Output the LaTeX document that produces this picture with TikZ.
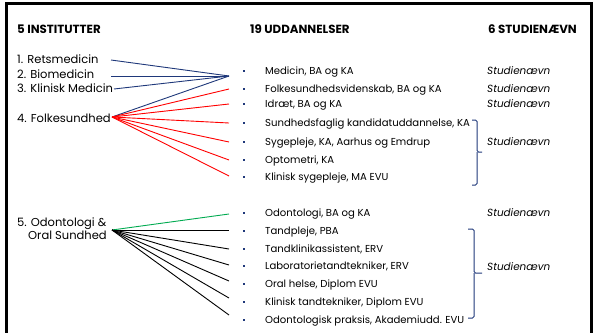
\documentclass[tikz,border=0pt]{standalone}
\usepackage{fontspec}
\setmainfont{Poppins}
\definecolor{navy}{RGB}{31,56,122}
\definecolor{gronn}{RGB}{0,170,80}

\begin{document}
\begin{tikzpicture}[x=1pt,y=-1pt,
  head/.style={anchor=base west,inner sep=0pt,font=\bfseries\fontsize{11.8}{14}\selectfont},
  inst/.style={anchor=base west,inner sep=0pt,font=\fontsize{11.5}{14}\selectfont},
  udd/.style={anchor=base west,inner sep=0pt,font=\fontsize{10.1}{12}\selectfont},
  snv/.style={anchor=base west,inner sep=0pt,font=\itshape\fontsize{10.4}{12}\selectfont},
  dot/.style={fill=navy,inner sep=0pt,minimum size=2.8pt},
  blue line/.style={navy,line width=0.9pt},
  red line/.style={red,line width=0.9pt},
  green line/.style={gronn,line width=0.9pt},
  black line/.style={black,line width=0.9pt},
  brace/.style={navy,line width=1pt,rounded corners=1.5pt}]
\useasboundingbox (0,0) rectangle (596,332);
% ramme
\draw[line width=3.2pt] (6.6,340) -- (6.6,3.4) -- (591.6,3.4) -- (591.6,340);

% overskrifter
\node[head] (h1) at (17,33.5) {5 INSTITUTTER};
\node[head] (h2) at (250,33.5) {19 UDDANNELSER};
\node[head] (h3) at (488,33.5) {6 STUDIENÆVN};

% institutter
\node[inst] (ins1) at (17,63.5) {1. Retsmedicin};
\node[inst] (ins2) at (17,78) {2. Biomedicin};
\node[inst] (ins3) at (17,92.5) {3. Klinisk Medicin};
\node[inst] (ins4) at (17,122.5) {4. Folkesundhed};
\node[inst] (ins5a) at (17,226.5) {5. Odontologi \&};
\node[inst] (ins5b) at (28,239.5) {Oral Sundhed};

\coordinate (s1) at (111,60);
\coordinate (s2) at (111,76);
\coordinate (s3) at (114,89);
\coordinate (s4) at (112,117);
\coordinate (s5) at (112,230);
\coordinate (hub) at (229,76);

% uddannelser
\node[dot] (b1) at (244,71) {};
\node[dot] (b2) at (244,89) {};
\node[dot] (b3) at (244,104) {};
\node[dot] (b4) at (244,123) {};
\node[dot] (b5) at (244,142) {};
\node[dot] (b6) at (244,160) {};
\node[dot] (b7) at (244,177) {};
\node[dot] (b8) at (244,213) {};
\node[dot] (b9) at (244,231) {};
\node[dot] (b10) at (244,249) {};
\node[dot] (b11) at (244,266) {};
\node[dot] (b12) at (244,284) {};
\node[dot] (b13) at (244,302) {};
\node[dot] (b14) at (244,320) {};

\node[udd] (u1) at (265,74.5) {Medicin, BA og KA};
\node[udd] (u2) at (265,92.5) {Folkesundhedsvidenskab, BA og KA};
\node[udd] (u3) at (265,107.5) {Idræt, BA og KA};
\node[udd] (u4) at (265,126.5) {Sundhedsfaglig kandidatuddannelse, KA};
\node[udd] (u5) at (265,145.5) {Sygepleje, KA, Aarhus og Emdrup};
\node[udd] (u6) at (265,163.5) {Optometri, KA};
\node[udd] (u7) at (265,180.5) {Klinisk sygepleje, MA EVU};
\node[udd] (u8) at (265,216.5) {Odontologi, BA og KA};
\node[udd] (u9) at (265,234.5) {Tandpleje, PBA};
\node[udd] (u10) at (265,252.5) {Tandklinikassistent, ERV};
\node[udd] (u11) at (265,269.5) {Laboratorietandtekniker, ERV};
\node[udd] (u12) at (265,287.5) {Oral helse, Diplom EVU};
\node[udd] (u13) at (265,305.5) {Klinisk tandtekniker, Diplom EVU};
\node[udd] (u14) at (265,323.5) {Odontologisk praksis, Akademiudd. EVU};

\coordinate (e2) at (229,89);
\coordinate (e3) at (229,104);
\coordinate (e4) at (229,123);
\coordinate (e5) at (229,142);
\coordinate (e6) at (229,160);
\coordinate (e7) at (229,176);
\coordinate (e8) at (229,214);
\coordinate (e9) at (229,230);
\coordinate (e10) at (229,249);
\coordinate (e11) at (229,265);
\coordinate (e12) at (229,281);
\coordinate (e13) at (229,298);
\coordinate (e14) at (229,315);

% studienaevn
\node[snv] (sn1) at (487,74.5) {Studienævn};
\node[snv] (sn2) at (487,92.5) {Studienævn};
\node[snv] (sn3) at (487,107.5) {Studienævn};
\node[snv] (sn4) at (487,145.5) {Studienævn};
\node[snv] (sn5) at (487,216.5) {Studienævn};
\node[snv] (sn6) at (487,270.5) {Studienævn};

% forbindelser
\draw[blue line](s1)--(hub);
\draw[blue line](s2)--(hub);
\draw[blue line](s3)--(hub);
\draw[blue line](s4)--(hub);
\draw[red line](s4)--(e2);
\draw[red line](s4)--(e3);
\draw[red line](s4)--(e4);
\draw[red line](s4)--(e5);
\draw[red line](s4)--(e6);
\draw[red line](s4)--(e7);
\draw[green line](s5)--(e8);
\draw[black line](s5)--(e9);
\draw[black line](s5)--(e10);
\draw[black line](s5)--(e11);
\draw[black line](s5)--(e12);
\draw[black line](s5)--(e13);
\draw[black line](s5)--(e14);

% klammer
\coordinate (k1) at (482,152);
\coordinate (k2) at (482,273);
\draw[brace] (472,120) -| (477,152) -- (k1);
\draw[brace] (472,185) -| (477,152);
\draw[brace] (468,229) -| (474,273) -- (k2);
\draw[brace] (468,318) -| (474,273);
\end{tikzpicture}
\end{document}
